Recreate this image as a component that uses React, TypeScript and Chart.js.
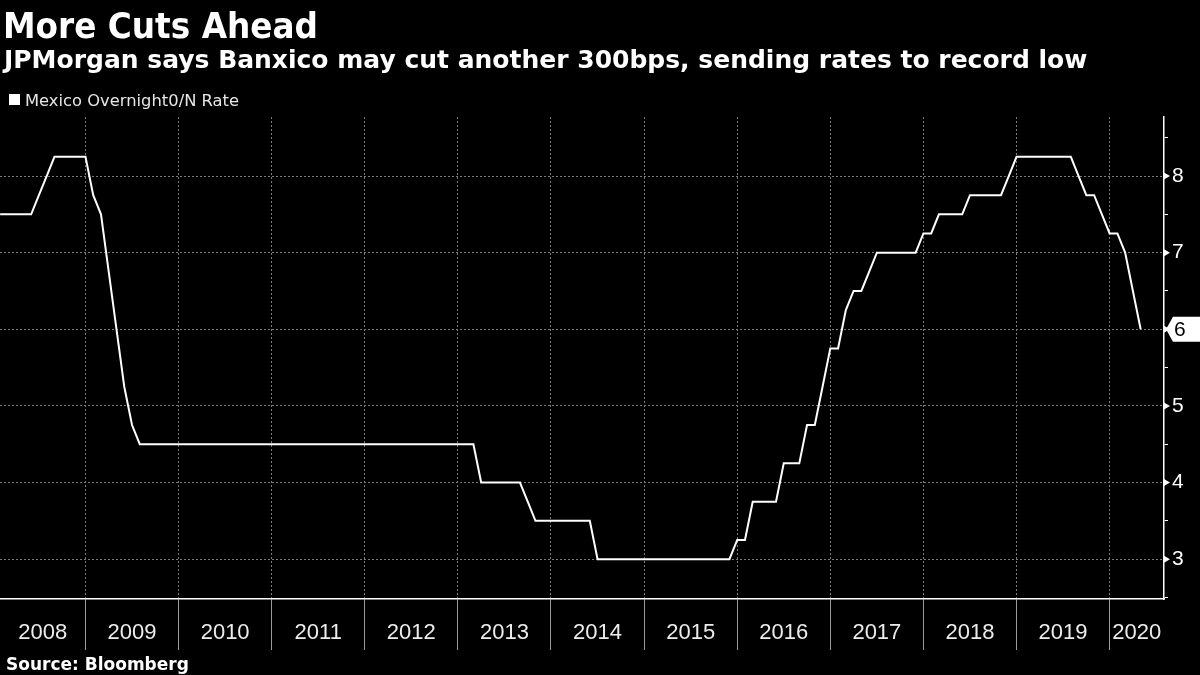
import React, { useEffect, useRef } from 'react';
import { Chart, registerables } from 'chart.js';

Chart.register(...registerables);

const TITLE = 'More Cuts Ahead';
const SUBTITLE = 'JPMorgan says Banxico may cut another 300bps, sending rates to record low';
const SERIES_NAME = 'Mexico Overnight0/N Rate';
const SOURCE = 'Source: Bloomberg';

// Month-end Mexico overnight rate (%), one array per year (Jan..Dec)
const rate2008 = [7.5, 7.5, 7.5, 7.5, 7.5, 7.75, 8.0, 8.25, 8.25, 8.25, 8.25, 8.25];
const rate2009 = [7.75, 7.5, 6.75, 6.0, 5.25, 4.75, 4.5, 4.5, 4.5, 4.5, 4.5, 4.5];
const rate2010 = [4.5, 4.5, 4.5, 4.5, 4.5, 4.5, 4.5, 4.5, 4.5, 4.5, 4.5, 4.5];
const rate2011 = [4.5, 4.5, 4.5, 4.5, 4.5, 4.5, 4.5, 4.5, 4.5, 4.5, 4.5, 4.5];
const rate2012 = [4.5, 4.5, 4.5, 4.5, 4.5, 4.5, 4.5, 4.5, 4.5, 4.5, 4.5, 4.5];
const rate2013 = [4.5, 4.5, 4.0, 4.0, 4.0, 4.0, 4.0, 4.0, 3.75, 3.5, 3.5, 3.5];
const rate2014 = [3.5, 3.5, 3.5, 3.5, 3.5, 3.0, 3.0, 3.0, 3.0, 3.0, 3.0, 3.0];
const rate2015 = [3.0, 3.0, 3.0, 3.0, 3.0, 3.0, 3.0, 3.0, 3.0, 3.0, 3.0, 3.25];
const rate2016 = [3.25, 3.75, 3.75, 3.75, 3.75, 4.25, 4.25, 4.25, 4.75, 4.75, 5.25, 5.75];
const rate2017 = [5.75, 6.25, 6.5, 6.5, 6.75, 7.0, 7.0, 7.0, 7.0, 7.0, 7.0, 7.25];
const rate2018 = [7.25, 7.5, 7.5, 7.5, 7.5, 7.75, 7.75, 7.75, 7.75, 7.75, 8.0, 8.25];
const rate2019 = [8.25, 8.25, 8.25, 8.25, 8.25, 8.25, 8.25, 8.0, 7.75, 7.75, 7.5, 7.25];
const rate2020 = [7.25, 7.0, 6.5, 6.0];

const dataYears = [2008, 2009, 2010, 2011, 2012, 2013, 2014, 2015, 2016, 2017, 2018, 2019, 2020];
const ratesByYear = [rate2008, rate2009, rate2010, rate2011, rate2012, rate2013, rate2014, rate2015, rate2016, rate2017, rate2018, rate2019, rate2020];

const yearLabels = ['2008', '2009', '2010', '2011', '2012', '2013', '2014', '2015', '2016', '2017', '2018', '2019', '2020'];
const yTicks = [3, 4, 5, 6, 7, 8];
const yMinorTicks = [2.5, 3.5, 4.5, 5.5, 6.5, 7.5, 8.5];

const X_MIN = 2008.082;
const X_MAX = 2020.584;
const Y_MIN = 2.48;
const Y_MAX = 8.77;

const points: { x: number; y: number }[] = [];
dataYears.forEach((yr, yi) => {
  ratesByYear[yi].forEach((v, mi) => {
    points.push({ x: yr + (mi + 1) / 12, y: v });
  });
});

const yearBoundaries = yearLabels.map((l) => Number(l)).filter((v) => v > X_MIN && v < X_MAX);
const yearMids = yearLabels.map((l) => {
  const y0 = Number(l);
  const lo = Math.max(y0, X_MIN);
  const hi = Math.min(y0 + 1, X_MAX);
  return (lo + hi) / 2;
});

const near = (a: number, b: number) => Math.abs(a - b) < 1e-6;
const isBoundary = (v: number) => yearBoundaries.some((b) => near(b, v));
const isMajorY = (v: number) => yTicks.some((t) => near(t, v));

const decorPlugin = {
  id: 'decor',
  beforeDraw(chart: any) {
    const { ctx, width, height } = chart;
    ctx.save();
    ctx.fillStyle = '#000';
    ctx.fillRect(0, 0, width, height);
    ctx.restore();
  },
  afterDraw(chart: any) {
    const { ctx } = chart;
    const yScale = chart.scales.y;
    const right = chart.chartArea.right;
    ctx.save();
    ctx.textAlign = 'left';
    ctx.textBaseline = 'alphabetic';
    ctx.fillStyle = '#ffffff';
    ctx.font = 'bold 35px "DejaVu Sans"';
    ctx.fillText(TITLE, 3, 38, 315);
    ctx.font = 'bold 25px "DejaVu Sans"';
    ctx.fillText(SUBTITLE, 4, 68, 1084);
    // legend
    ctx.fillRect(9, 94, 11, 11);
    ctx.fillStyle = '#e6e6e6';
    ctx.font = '16.5px "DejaVu Sans"';
    ctx.fillText(SERIES_NAME, 25, 106, 214);
    // source
    ctx.fillStyle = '#ffffff';
    ctx.font = 'bold 17px "DejaVu Sans"';
    ctx.fillText(SOURCE, 6, 670, 184);

    // major tick triangles
    ctx.fillStyle = '#ffffff';
    yTicks.forEach((v) => {
      const py = yScale.getPixelForValue(v);
      ctx.beginPath();
      ctx.moveTo(right, py - 3.5);
      ctx.lineTo(right + 6, py);
      ctx.lineTo(right, py + 3.5);
      ctx.closePath();
      ctx.fill();
    });

    // last value tag
    const last = points[points.length - 1].y;
    const py = yScale.getPixelForValue(last);
    ctx.beginPath();
    ctx.moveTo(right + 2, py);
    ctx.lineTo(right + 9, py - 12.5);
    ctx.lineTo(1200, py - 12.5);
    ctx.lineTo(1200, py + 12.5);
    ctx.lineTo(right + 9, py + 12.5);
    ctx.closePath();
    ctx.fill();
    ctx.fillStyle = '#000';
    ctx.font = '21px "Liberation Sans"';
    ctx.textBaseline = 'middle';
    ctx.fillText(String(last), right + 10, py + 1);
    ctx.restore();
  },
};

export default function App() {
  const ref = useRef<HTMLCanvasElement | null>(null);

  useEffect(() => {
    document.body.style.margin = '0';
    document.body.style.background = '#000';
    if (!ref.current) return;
    const chart = new Chart(ref.current, {
      type: 'line',
      data: {
        datasets: [
          {
            label: SERIES_NAME,
            data: points,
            borderColor: '#ffffff',
            borderWidth: 2,
            pointRadius: 0,
            tension: 0,
            fill: false,
          },
        ],
      },
      options: {
        animation: false,
        responsive: false,
        devicePixelRatio: 1,
        layout: { padding: { top: 117, left: 0, right: 0, bottom: 0 } },
        plugins: { legend: { display: false }, tooltip: { enabled: false }, title: { display: false } },
        scales: {
          x: {
            type: 'linear',
            position: 'bottom',
            min: X_MIN,
            max: X_MAX,
            afterBuildTicks: (s: any) => {
              s.ticks = [...yearBoundaries, ...yearMids].sort((a, b) => a - b).map((v) => ({ value: v }));
            },
            afterFit: (s: any) => {
              s.height = 76;
            },
            ticks: {
              autoSkip: false,
              maxRotation: 0,
              minRotation: 0,
              padding: -30,
              color: '#ececec',
              font: { family: '"Liberation Sans"', size: 22 },
              callback: (v: any) => {
                const i = yearMids.findIndex((m) => near(m, Number(v)));
                return i >= 0 ? yearLabels[i] : '';
              },
            },
            grid: {
              color: (c: any) => (c.tick && isBoundary(c.tick.value) ? '#7a7a7a' : 'transparent'),
              tickColor: (c: any) => (c.tick && isBoundary(c.tick.value) ? '#9a9a9a' : 'transparent'),
              tickLength: 51,
              lineWidth: 1,
            },
            border: { display: true, color: '#ffffff', width: 1.5, dash: [2, 2] },
          },
          y: {
            type: 'linear',
            position: 'right',
            min: Y_MIN,
            max: Y_MAX,
            afterBuildTicks: (s: any) => {
              s.ticks = [...yTicks, ...yMinorTicks].sort((a, b) => a - b).map((v) => ({ value: v }));
            },
            afterFit: (s: any) => {
              s.width = 36;
            },
            ticks: {
              autoSkip: false,
              padding: 4,
              color: '#ffffff',
              font: { family: '"Liberation Sans"', size: 21 },
              callback: (v: any) => (isMajorY(Number(v)) ? String(v) : ''),
            },
            grid: {
              color: (c: any) => (c.tick && isMajorY(c.tick.value) ? '#7a7a7a' : 'transparent'),
              tickColor: (c: any) => (c.tick && isMajorY(c.tick.value) ? 'transparent' : '#ffffff'),
              tickLength: 4,
              lineWidth: 1,
            },
            border: { display: true, color: '#ffffff', width: 1.5, dash: [2, 2] },
          },
        },
      },
      plugins: [decorPlugin],
    });
    return () => chart.destroy();
  }, []);

  return (
    <div style={{ width: 1200, height: 675, background: '#000' }}>
      <canvas ref={ref} width={1200} height={675} style={{ display: 'block' }} />
    </div>
  );
}
